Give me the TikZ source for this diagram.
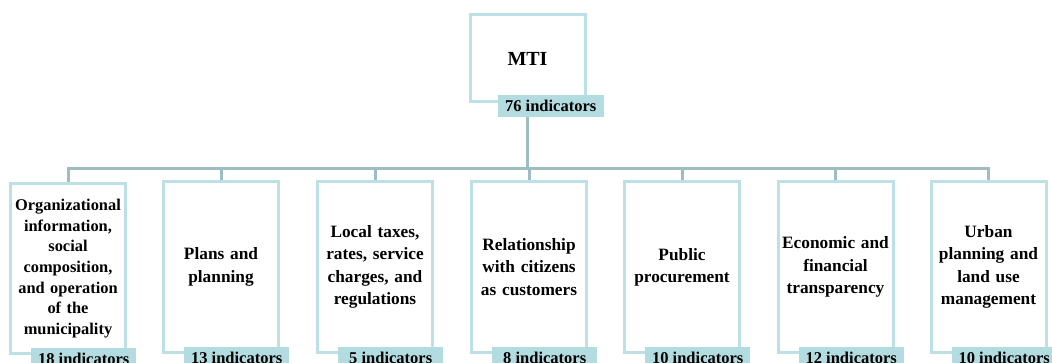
\documentclass[tikz,border=0pt]{standalone}
\usepackage{fontspec}
\setmainfont{Liberation Serif}
\usetikzlibrary{positioning}
\definecolor{boxline}{HTML}{BCE0E5}
\definecolor{tagfill}{HTML}{B3DCE1}
\definecolor{busline}{HTML}{9DBDC1}
\begin{document}
\begin{tikzpicture}[x=1pt,y=-1pt,
    area/.style={draw=boxline,line width=3pt,fill=white,minimum width=115pt,minimum height=170pt,
        text width=112pt,align=center,inner sep=0pt,font=\bfseries\fontsize{17.3}{22.3}\selectfont},
    tag/.style={fill=tagfill,minimum width=105pt,minimum height=22pt,inner sep=0pt,anchor=north west,
        font=\bfseries\fontsize{16.5}{20}\selectfont},
    bus/.style={draw=busline,line width=3pt}]
            \useasboundingbox (0,0) rectangle (1052,363);
            \clip (0,0) rectangle (1052,363);
            \node [area,minimum height=87pt,font=\bfseries\fontsize{20}{24}\selectfont] (mti) at (527.5,58.5) {MTI};
            \node [tag,minimum width=106pt] (mtitag) at ([xshift=29pt,yshift=9pt]mti.south west) {76 indicators};
            \coordinate (split) at (527.5,169);
            \node [area,font=\bfseries\fontsize{16.4}{20.6}\selectfont] (org) at (68,268.5) {Organizational\\information,\\social\\composition,\\and operation\\of the\\municipality};
            \node [area] (plans) at (221,267) {Plans and\\planning};
            \node [area] (taxes) at (375,267) {Local taxes,\\rates, service\\charges, and\\regulations};
            \node [area] (citizens) at (529,267) {Relationship\\with citizens\\as customers};
            \node [area] (procure) at (682,267) {Public\\procurement};
            \node [area] (finance) at (835.5,267) {Economic and\\financial\\transparency};
            \node [area] (urban) at (988.5,267) {Urban\\planning and\\land use\\management};
            \node [tag] (orgtag) at ([xshift=22pt,yshift=7pt]org.south west) {18 indicators};
            \node [tag] (planstag) at ([xshift=22pt,yshift=7pt]plans.south west) {13 indicators};
            \node [tag] (taxestag) at ([xshift=22pt,yshift=7pt]taxes.south west) {5 indicators};
            \node [tag] (citizenstag) at ([xshift=22pt,yshift=7pt]citizens.south west) {8 indicators};
            \node [tag] (procuretag) at ([xshift=22pt,yshift=7pt]procure.south west) {10 indicators};
            \node [tag] (financetag) at ([xshift=22pt,yshift=7pt]finance.south west) {12 indicators};
            \node [tag] (urbantag) at ([xshift=22pt,yshift=7pt]urban.south west) {10 indicators};
            \draw [bus] (mtitag.south -| mti.south) -- (split);
            \draw [bus] (org.north) -- (org.north |- split) -- (urban.north |- split) -- (urban.north);
            \draw [bus] (plans.north) -- (plans.north |- split);
            \draw [bus] (taxes.north) -- (taxes.north |- split);
            \draw [bus] (citizens.north) -- (citizens.north |- split);
            \draw [bus] (procure.north) -- (procure.north |- split);
            \draw [bus] (finance.north) -- (finance.north |- split);
\end{tikzpicture}
\end{document}
